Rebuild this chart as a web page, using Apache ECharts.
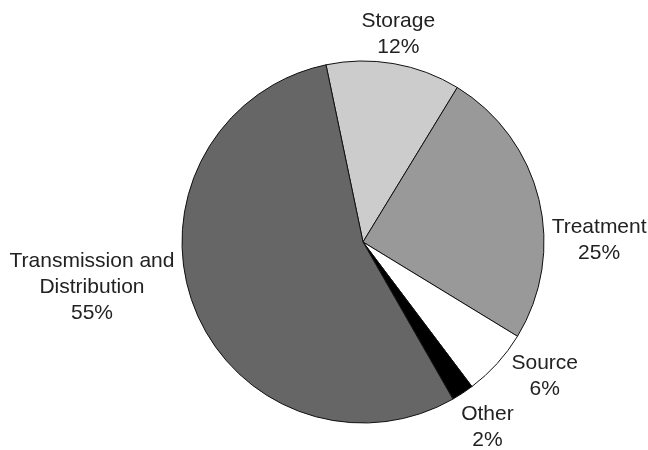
<!DOCTYPE html>
<html><head><meta charset="utf-8">
<script src="https://cdn.jsdelivr.net/npm/echarts@6/dist/echarts.min.js"></script>
<style>html,body{margin:0;padding:0;background:#fff}#c{width:648px;height:450px}</style>
</head><body><div id="c"></div>
<script>
const categories = ['Storage', 'Treatment', 'Source', 'Other', 'Transmission and\nDistribution'];
const values = [12, 25, 6, 2, 55];
const colors = ['#cccccc', '#999999', '#ffffff', '#000000', '#666666'];

// fine nudges of each label relative to where ECharts places it
const labelNudge = [[-39, -20], [-2, 43], [2, 6], [-12, 26], [-5, -23]];

const chart = echarts.init(document.getElementById('c'), null, {renderer: 'canvas'});
chart.setOption({
  animation: false,
  backgroundColor: '#ffffff',
  series: [{
    type: 'pie',
    center: [363, 242],
    radius: 181,
    startAngle: 101.8,
    clockwise: true,
    avoidLabelOverlap: false,
    data: categories.map((c, i) => ({name: c, value: values[i], itemStyle: {color: colors[i]}})),
    itemStyle: {borderColor: '#111', borderWidth: 1},
    label: {
      show: true,
      position: 'outside',
      formatter: '{b}\n{d}%',
      fontFamily: 'Liberation Sans, Arial, sans-serif',
      fontSize: 21,
      lineHeight: 26,
      color: '#222'
    },
    labelLine: {show: false, length: 10, length2: 0},
    labelLayout: function (p) {
      const r = p.labelRect;
      const n = labelNudge[p.dataIndex] || [0, 0];
      return {
        hideOverlap: false,
        x: r.x + r.width / 2 + n[0],
        y: r.y + r.height / 2 + n[1],
        align: 'center',
        verticalAlign: 'middle'
      };
    },
    emphasis: {disabled: true}
  }]
});
</script></body></html>
